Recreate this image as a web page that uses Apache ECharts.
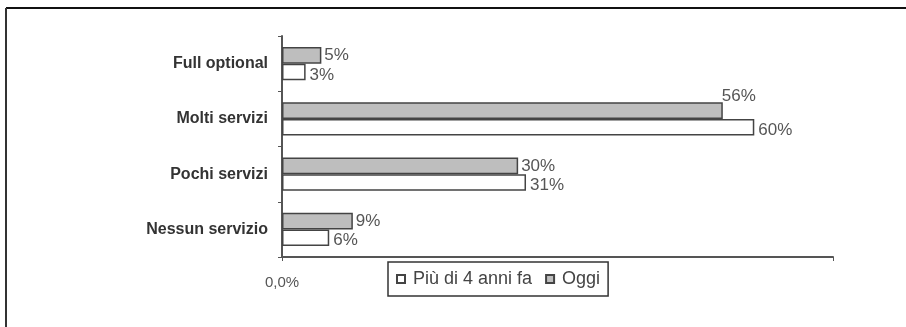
<!DOCTYPE html>
<html>
<head>
<meta charset="utf-8">
<script src="https://cdn.jsdelivr.net/npm/echarts@6/dist/echarts.min.js"></script>
<style>
  html, body { margin: 0; padding: 0; background: #fff; }
  #chart { width: 906px; height: 327px; }
</style>
</head>
<body>
<div id="chart"></div>
<script>
// categories listed bottom -> top (ECharts category y axis starts at the bottom)
const categories = ["Nessun servizio", "Pochi servizi", "Molti servizi", "Full optional"];
const seriesNames = ["Più di 4 anni fa", "Oggi"];
const valuesBefore = [6, 31, 60, 3];
const valuesToday = [9, 30, 56, 5];
const xTickLabels = ["0,0%"];

const chart = echarts.init(document.getElementById("chart"), null, { renderer: "canvas" });

const font = "Liberation Sans, Arial, sans-serif";

const labelStyle = {
  show: true,
  position: "right",
  distance: 3,
  fontFamily: font,
  fontSize: 17,
  color: "#555",
  formatter: (p) => p.value + "%",
};

// the 56% label sits above its bar in the original
const todayData = valuesToday.map((v, i) =>
  categories[i] === "Molti servizi"
    ? { value: v, label: { offset: [-4, -14] } }
    : v
);

const option = {
  animation: false,
  backgroundColor: "#fff",
  grid: { left: 282, right: 73, top: 36, bottom: 70 },
  legend: {
    data: seriesNames,
    left: 388,
    top: 262,
    padding: [8, 8],
    itemGap: 13,
    itemWidth: 8,
    itemHeight: 8,
    borderColor: "#333",
    borderWidth: 1.5,
    icon: "rect",
    textStyle: {
      fontFamily: font,
      fontSize: 18,
      color: "#444",
      padding: [0, 0, 0, 3],
    },
  },
  xAxis: {
    type: "value",
    min: 0,
    max: 70,
    interval: 70,
    splitLine: { show: false },
    axisLine: { show: true, lineStyle: { color: "#555", width: 2 } },
    axisTick: { show: true, length: 4, lineStyle: { color: "#555" } },
    axisLabel: {
      margin: 18,
      fontFamily: font,
      fontSize: 15,
      color: "#555",
      formatter: (v) => (v === 0 ? xTickLabels[0] : ""),
    },
  },
  yAxis: {
    type: "category",
    data: categories,
    axisLine: { show: true, lineStyle: { color: "#555", width: 2 } },
    axisTick: { show: true, length: 4, lineStyle: { color: "#555" } },
    axisLabel: {
      margin: 14,
      fontFamily: font,
      fontWeight: "bold",
      fontSize: 16,
      color: "#333",
    },
  },
  // "Oggi" first so it is drawn on top inside each category
  series: [
    {
      name: seriesNames[1],
      type: "bar",
      data: todayData,
      barGap: "0%",
      barCategoryGap: "40%",
      itemStyle: { color: "#bebebe", borderColor: "#444", borderWidth: 1.5 },
      label: labelStyle,
    },
    {
      name: seriesNames[0],
      type: "bar",
      data: valuesBefore,
      itemStyle: { color: "#fff", borderColor: "#444", borderWidth: 1.5 },
      label: Object.assign({}, labelStyle, { distance: 4, offset: [0, 3] }),
    },
  ],
  graphic: [
    { type: "line", shape: { x1: 6, y1: 8, x2: 906, y2: 8 }, style: { stroke: "#111", lineWidth: 2 } },
    { type: "line", shape: { x1: 6, y1: 8, x2: 6, y2: 327 }, style: { stroke: "#333", lineWidth: 2 } },
  ],
};

chart.setOption(option);
</script>
</body>
</html>
